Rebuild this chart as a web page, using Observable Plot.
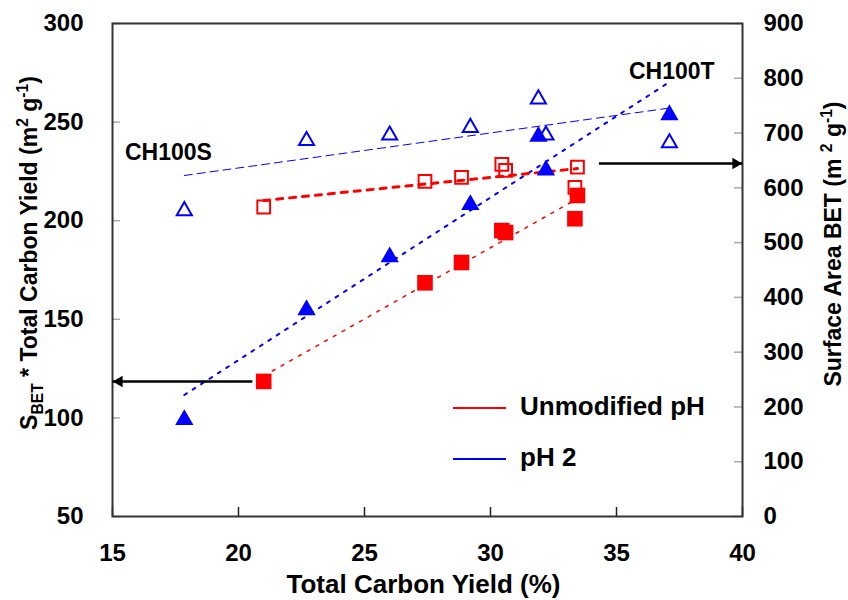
<!DOCTYPE html>
<html><head><meta charset="utf-8">
<script src="https://cdn.jsdelivr.net/npm/d3@7"></script>
<script src="https://cdn.jsdelivr.net/npm/@observablehq/plot@0.6"></script>
<style>
body{margin:0;background:#fff}
svg{font-family:"Liberation Sans",Arial,sans-serif;font-weight:bold}
</style>
</head><body><div id="chart"></div><script>
// ---- data ----
// Unmodified pH series (red squares)
const unmodYield   = [21.0, 27.4, 28.85, 30.45, 30.6, 33.45, 33.35];
const unmodBET     = [565, 612, 619, 643, 632, 638, 601];        // open squares, right axis
const unmodProduct = [118.5, 168.5, 178.8, 195, 194, 212.8, 201]; // filled squares, left axis
// pH 2 series (blue triangles)
const ph2Yield   = [17.85, 22.7, 26.0, 29.2, 31.9, 32.2, 37.1];
const ph2BET     = [562, 690, 700, 714, 766, 700, 686];           // open triangles, right axis
const ph2Product = [100.4, 156.1, 182.9, 209.4, 244, 227, 255];   // filled triangles, left axis

const xTicks = [15, 20, 25, 30, 35, 40];
const leftTicks = [50, 100, 150, 200, 250, 300];
const rightTicks = [0, 100, 200, 300, 400, 500, 600, 700, 800, 900];

const legendLabels = ["Unmodified pH", "pH 2"];
const legendColors = ["#ff0000", "#0000ff"];
const annotations = ["CH100S", "CH100T"];
// arrows: from a point toward an axis (left-axis units)
const arrows = [{x1: 20.55, x2: 15, y: 118.5, dir: "left"}, {x1: 34.3, x2: 40, y: 229, dir: "right"}];

// right axis (0..900) mapped onto left axis (50..300)
const toLeft = v => 50 + v / 3.6;
const unmod = unmodYield.map((x, i) => ({x, product: unmodProduct[i], bet: toLeft(unmodBET[i])}));
const ph2 = ph2Yield.map((x, i) => ({x, product: ph2Product[i], bet: toLeft(ph2BET[i])}));

const W = 848, H = 600, mL = 112, mR = 106, mT = 23, mB = 84;
const plotW = W - mL - mR, plotH = H - mT - mB;
const RED = "#ff0000", BLUE = "#0000ff";
const triOff = r => Math.sqrt(Math.PI * r * r / (3 * Math.sqrt(3))) / 2;

const chart = Plot.plot({
  width: W, height: H,
  marginLeft: mL, marginRight: mR, marginTop: mT, marginBottom: mB,
  style: {fontFamily: "'Liberation Sans', Arial, sans-serif", fontWeight: "bold", fontSize: "24px", color: "#000", background: "#fff", overflow: "visible"},
  x: {domain: [15, 40]},
  y: {domain: [50, 300]},
  marks: [
    Plot.axisX(xTicks, {tickSize: 0, tickPadding: 27, label: null, fontSize: 24}),
    Plot.axisY(leftTicks, {anchor: "left", tickSize: 0, tickPadding: 29, label: null, fontSize: 24}),
    Plot.axisY(rightTicks.map(toLeft), {anchor: "right", tickSize: 0, tickPadding: 21, label: null, fontSize: 24,
      tickFormat: d => Math.round((d - 50) * 3.6)}),
    Plot.tickX(xTicks, {x: d => d, insetTop: plotH - 9, stroke: "#222", strokeWidth: 1.5}),
    Plot.tickY(leftTicks, {y: d => d, insetRight: plotW - 8, stroke: "#aaa", strokeWidth: 1.5}),
    Plot.tickY(rightTicks.map(toLeft), {y: d => d, insetLeft: plotW - 8, stroke: "#aaa", strokeWidth: 1.5}),
    Plot.frame({stroke: "#333", strokeWidth: 2}),
    // trend lines
    Plot.linearRegressionY(ph2, {x: "x", y: "bet", stroke: BLUE, strokeWidth: 1, strokeDasharray: "8,5", ci: 0}),
    Plot.linearRegressionY(ph2, {x: "x", y: "product", stroke: BLUE, strokeWidth: 2, strokeDasharray: "3,7", ci: 0}),
    Plot.linearRegressionY(unmod, {x: "x", y: "bet", stroke: RED, strokeWidth: 3, strokeDasharray: "6,7", ci: 0}),
    Plot.linearRegressionY(unmod, {x: "x", y: "product", stroke: RED, strokeWidth: 1.5, strokeDasharray: "3,7", ci: 0}),
    // markers
    Plot.dot(unmod, {x: "x", y: "bet", symbol: "square", r: 7.2, fill: "#fff", fillOpacity: 0, stroke: RED, strokeWidth: 2}),
    Plot.dot(unmod, {x: "x", y: "product", symbol: "square", r: 8.8, fill: RED, stroke: "none"}),
    Plot.dot(ph2, {x: "x", y: "bet", symbol: "triangle", r: 5.6, fill: "none", stroke: BLUE, strokeWidth: 2, dy: triOff(5.6)}),
    Plot.dot(ph2, {x: "x", y: "product", symbol: "triangle", r: 6.8, fill: BLUE, stroke: "none", dy: triOff(6.8)}),
    // arrows
    Plot.link(arrows, {x1: "x1", x2: "x2", y1: "y", y2: "y", stroke: "#000", strokeWidth: 2.5}),
    Plot.dot(arrows, {x: "x2", y: "y", symbol: "triangle", r: 4.3, fill: "#000", stroke: "none",
      rotate: d => d.dir === "left" ? -90 : 90, dx: 0}),
  ]
});
document.getElementById("chart").appendChild(chart);

// nudge arrowheads so the tips touch the axes
d3.select(chart).selectAll("g[aria-label='dot']").filter((d, i, n) => i === n.length - 1)
  .selectAll("path").attr("transform", function(_, i) {
    const t = d3.select(this).attr("transform");
    const off = arrows[i].dir === "left" ? 6.8 : -6.8;
    return t.replace(/translate\(([-\d.]+),([-\d.]+)\)/, (m, a, b) => `translate(${+a + off},${b})`);
  });

const svg = d3.select(chart);
const g = svg.append("g").attr("text-anchor", "start").attr("fill", "#000");
// legend
[408, 459].forEach((y, i) => {
  g.append("line").attr("x1", 453).attr("x2", 506).attr("y1", y).attr("y2", y)
    .attr("stroke", legendColors[i]).attr("stroke-width", 2);
  g.append("text").attr("x", 520).attr("y", y + 7).attr("font-size", 26).attr("text-anchor", "start").text(legendLabels[i]);
});
// annotations
g.append("text").attr("x", 125).attr("y", 160).attr("font-size", 23).attr("text-anchor", "start").text(annotations[0]);
g.append("text").attr("x", 629).attr("y", 79).attr("font-size", 23).attr("text-anchor", "start").text(annotations[1]);

// axis titles
g.append("text").attr("x", 423.5).attr("y", 593).attr("text-anchor", "middle").attr("font-size", 26)
  .text("Total Carbon Yield (%)");

function richLabel(parent, parts, fs) {
  const t = parent.append("text").attr("text-anchor", "middle").attr("font-size", fs);
  let shift = 0;
  parts.forEach(([s, kind]) => {
    const target = kind === "sub" ? 6 : kind === "sup" ? -9 : 0;
    const ts = t.append("tspan").attr("dy", target - shift).text(s);
    if (kind) ts.attr("font-size", fs * 0.68);
    shift = target;
  });
  return t;
}
richLabel(g, [["S"], ["BET", "sub"], [" * Total Carbon Yield (m"], ["2", "sup"], [" g"], ["-1", "sup"], [")"]], 23)
  .attr("transform", "translate(37,253) rotate(-90)");
richLabel(g, [["Surface Area BET (m "], ["2", "sup"], [" g"], ["-1", "sup"], [")"]], 23)
  .attr("transform", "translate(841,244) rotate(-90)");
</script></body></html>
